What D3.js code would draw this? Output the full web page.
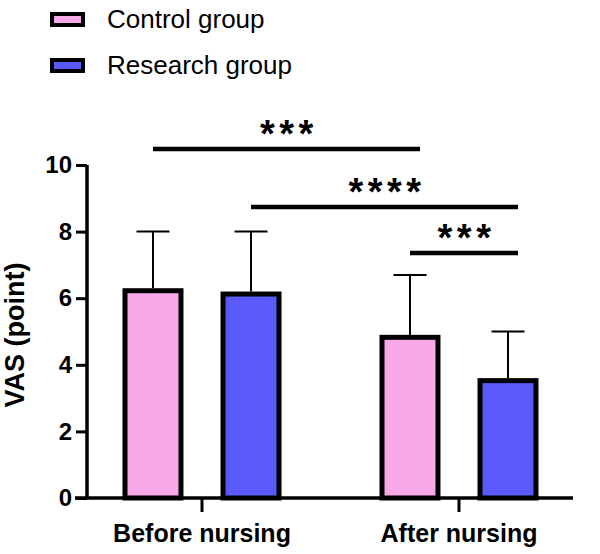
<!DOCTYPE html>
<html>
<head>
<meta charset="utf-8">
<script src="https://cdn.jsdelivr.net/npm/d3@7"></script>
<style>
  body { margin: 0; background: #fff; }
  svg { display: block; font-family: "Liberation Sans", Arial, sans-serif; }
</style>
</head>
<body>
<svg id="chart" width="600" height="554"></svg>
<script>
const categories = ['Before nursing', 'After nursing'];
const seriesNames = ['Control group', 'Research group'];
const seriesColors = ['#f7aae7', '#5a5afc'];
const controlMeans = [6.3, 4.9];
const controlSD = [1.7, 1.8];
const researchMeans = [6.2, 3.6];
const researchSD = [1.8, 1.4];
const yTicks = [0, 2, 4, 6, 8, 10];
// significance brackets: [category, series] -> [category, series], height in y units
const sigFrom = [[0, 0], [0, 1], [1, 0]];
const sigTo = [[1, 0], [1, 1], [1, 1]];
const sigLevel = [10.48, 8.74, 7.36];
const sigLabel = ['***', '****', '***'];

const means = [controlMeans, researchMeans];
const sds = [controlSD, researchSD];

const svg = d3.select('#chart');

const y = d3.scaleLinear().domain([0, 10]).range([498, 165]);
const x0 = d3.scaleBand().domain(categories).range([73.5, 587.5]);
const x1 = d3.scaleBand().domain(seriesNames).range([-79.5, 79.5]).paddingInner(0.378);
const barCenter = (c, s) => x0(categories[c]) + x0.bandwidth() / 2 + x1(seriesNames[s]) + x1.bandwidth() / 2;

// bars
const bars = [];
seriesNames.forEach((name, s) => {
  categories.forEach((cat, c) => {
    bars.push({ s, c, mean: means[s][c], sd: sds[s][c] });
  });
});

const barG = svg.append('g');
barG.selectAll('line.err').data(bars).enter().append('line')
  .attr('class', 'err')
  .attr('x1', d => barCenter(d.c, d.s)).attr('x2', d => barCenter(d.c, d.s))
  .attr('y1', d => y(d.mean)).attr('y2', d => y(d.mean + d.sd))
  .attr('stroke', '#000').attr('stroke-width', 2);
barG.selectAll('line.cap').data(bars).enter().append('line')
  .attr('class', 'cap')
  .attr('x1', d => barCenter(d.c, d.s) - 16.5).attr('x2', d => barCenter(d.c, d.s) + 16.5)
  .attr('y1', d => y(d.mean + d.sd)).attr('y2', d => y(d.mean + d.sd))
  .attr('stroke', '#000').attr('stroke-width', 2);
barG.selectAll('rect').data(bars).enter().append('rect')
  .attr('x', d => barCenter(d.c, d.s) - x1.bandwidth() / 2 + 2.5)
  .attr('width', x1.bandwidth() - 5)
  .attr('y', d => y(d.mean) + 2.5)
  .attr('height', d => y(0) - y(d.mean) - 2.5)
  .attr('fill', d => seriesColors[d.s])
  .attr('stroke', '#000').attr('stroke-width', 5);

// axes
const yAxis = svg.append('g').attr('transform', 'translate(87,0)')
  .call(d3.axisLeft(y).tickValues(yTicks).tickSize(11).tickSizeOuter(0).tickPadding(4));
yAxis.select('.domain').attr('stroke-width', 3.5).attr('d', `M0,${y(10)}V${y(0)}`);
yAxis.selectAll('.tick line').attr('stroke-width', 3);
yAxis.selectAll('.tick text').attr('font-size', 24).attr('font-weight', 'bold')
  .attr('font-family', '"Liberation Sans", Arial, sans-serif').attr('fill', '#000');

const xAxis = svg.append('g').attr('transform', `translate(0,${y(0)})`)
  .call(d3.axisBottom(x0).tickSize(14).tickSizeOuter(0));
xAxis.select('.domain').attr('stroke-width', 3.5).attr('d', 'M75,0H573');
xAxis.selectAll('.tick line').attr('stroke-width', 3);
xAxis.selectAll('.tick text').attr('font-size', 25).attr('font-weight', 'bold')
  .attr('font-family', '"Liberation Sans", Arial, sans-serif').attr('fill', '#000')
  .attr('y', 44).attr('dy', 0);

svg.append('text')
  .attr('transform', 'translate(24,335) rotate(-90)')
  .attr('text-anchor', 'middle')
  .attr('font-size', 27).attr('font-weight', 'bold')
  .text('VAS (point)');

// significance
sigLabel.forEach((lab, i) => {
  const xa = barCenter(sigFrom[i][0], sigFrom[i][1]);
  const xb = barCenter(sigTo[i][0], sigTo[i][1]) + 10;
  const yy = y(sigLevel[i]);
  svg.append('line').attr('x1', xa).attr('x2', xb).attr('y1', yy).attr('y2', yy)
    .attr('stroke', '#000').attr('stroke-width', 4.5);
  svg.append('text').attr('x', (xa + xb) / 2 + 2.5).attr('y', yy - 24 + 0.58 * 38)
    .attr('text-anchor', 'middle').attr('font-size', 38).attr('font-weight', 'bold')
    .attr('letter-spacing', 4.5)
    .text(lab);
});

// legend
const legend = svg.append('g').selectAll('g').data(seriesNames).enter().append('g')
  .attr('transform', (d, i) => `translate(0,${i * 46})`);
legend.append('rect').attr('x', 52).attr('y', 14).attr('width', 31).attr('height', 11)
  .attr('fill', (d, i) => seriesColors[i]).attr('stroke', '#000').attr('stroke-width', 4);
legend.append('text').attr('x', 107).attr('y', 28).attr('font-size', 26)
  .text(d => d);
</script>
</body>
</html>
